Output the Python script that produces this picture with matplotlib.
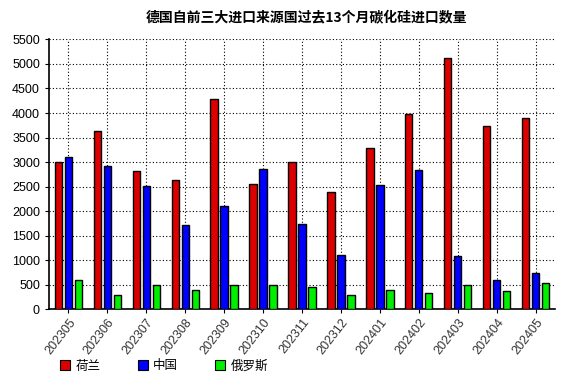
import numpy as np
import matplotlib
matplotlib.use("Agg")
import matplotlib.pyplot as plt
from matplotlib.patches import Patch

plt.rcParams['font.family'] = ['Noto Sans CJK SC', 'DejaVu Sans']

months = ['202305', '202306', '202307', '202308', '202309', '202310', '202311',
          '202312', '202401', '202402', '202403', '202404', '202405']
netherlands = [3000, 3630, 2810, 2630, 4280, 2550, 3000, 2400, 3280, 3970, 5130, 3730, 3890]
china = [3100, 2930, 2505, 1710, 2100, 2850, 1730, 1100, 2525, 2830, 1080, 590, 735]
russia = [590, 285, 490, 405, 505, 490, 450, 285, 405, 325, 505, 385, 530]
series_names = ['荷兰', '中国', '俄罗斯']
colors = ['#dd0000', '#0000ff', '#00ee00']

fig = plt.figure(figsize=(5.79, 3.82), dpi=100)
ax = fig.add_axes([0.0846, 0.190, 0.874, 0.707])

x = np.arange(len(months))
w = 0.19
off = 0.257
for k, vals in enumerate([netherlands, china, russia]):
    ax.bar(x + (k - 1) * off, vals, width=w, color=colors[k],
           edgecolor='black', linewidth=1.0, zorder=3)

ax.set_xlim(-0.5, len(months) - 0.5)
ax.set_ylim(0, 5500)
ax.set_yticks(np.arange(0, 5501, 500))
ax.set_xticks(x)
ax.set_xticklabels(months, rotation=52, ha='right', rotation_mode='anchor',
                   fontsize=9, color='#333333', family='Liberation Sans')
for lab in ax.get_yticklabels():
    lab.set_family('Liberation Sans')
ax.tick_params(axis='y', labelsize=9, length=3)
ax.tick_params(axis='x', length=3, pad=2)
ax.grid(True, linestyle=(0, (1, 2)), color='black', linewidth=0.8, zorder=0)
for s in ['top', 'right']:
    ax.spines[s].set_visible(False)
ax.spines['left'].set_linewidth(1.2)
ax.spines['bottom'].set_linewidth(1.2)

fig.text(0.53, 0.952, '德国自前三大进口来源国过去13个月碳化硅进口数量',
         ha='center', va='center', fontsize=10, fontweight='bold')

handles = [Patch(facecolor=c, edgecolor='black', linewidth=0.8) for c in colors]
fig.legend(handles, series_names, loc='center left', bbox_to_anchor=(0.085, 0.042),
           ncol=3, frameon=False, handlelength=0.8, handleheight=0.8,
           handletextpad=0.4, columnspacing=3.0, fontsize=9)

fig.savefig('out.png', dpi=100)
